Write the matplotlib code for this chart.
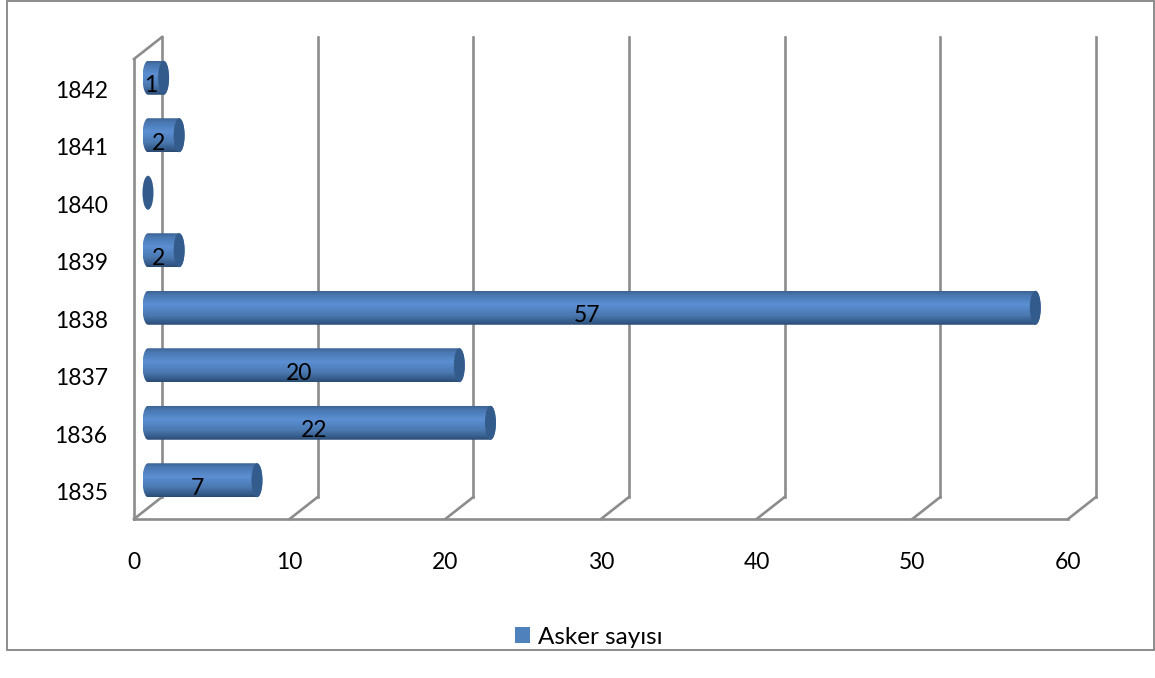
import numpy as np
import matplotlib
matplotlib.use('Agg')
import matplotlib.pyplot as plt
from matplotlib.colors import LinearSegmentedColormap
from matplotlib.patches import Ellipse, Patch, Rectangle
from matplotlib.path import Path
from matplotlib.transforms import Affine2D, IdentityTransform

years = ['1835', '1836', '1837', '1838', '1839', '1840', '1841', '1842']
asker = [7, 22, 20, 57, 2, 0, 2, 1]
xticks = [0, 10, 20, 30, 40, 50, 60]
series_name = 'Asker sayısı'

W, H = 1155, 678
GREY = '#8c8c8c'
LW = 1.9
plt.rcParams['font.family'] = ['Lato', 'DejaVu Sans']
FS = 16.5

fig = plt.figure(figsize=(W / 100, H / 100), dpi=100)
ax = fig.add_axes([134 / W, (H - 519) / H, 934 / W, 460 / H])
ax.set_autoscale_on(False)
ax.set_xlim(0, 60)
ax.set_ylim(-0.5, 7.5)
ax.set_xticks(xticks)
ax.set_yticks(range(len(years)))
ax.set_yticklabels(years)
ax.tick_params(axis='x', length=0, pad=24, labelsize=FS, labelcolor='black')
ax.tick_params(axis='y', length=0, pad=19, labelsize=FS, labelcolor='black')
for lab in ax.get_yticklabels():
    lab.set_transform(lab.get_transform() + Affine2D().translate(0, -1.5))
for s in ['top', 'right']:
    ax.spines[s].set_visible(False)
for s in ['left', 'bottom']:
    ax.spines[s].set_color(GREY)
    ax.spines[s].set_linewidth(LW)

# outer chart frame
fig.add_artist(Rectangle((7 / W, (H - 650) / H), 1147 / W, 649 / H, transform=fig.transFigure,
                         fill=False, edgecolor=GREY, linewidth=1.4))

# fake 3d depth, in pixels
depth_x, depth_y = 28, 22
tr_mid = ax.transData + Affine2D().translate(depth_x / 2, depth_y / 2 - 1)
tr_back = ax.transData + Affine2D().translate(depth_x, depth_y)
px = IdentityTransform()

for v in xticks:
    x0, y0 = ax.transData.transform((v, -0.5))
    ax.plot([x0, x0 + depth_x], [y0, y0 + depth_y], transform=px, color=GREY, lw=LW,
            clip_on=False, zorder=1)
    ax.plot([v, v], [-0.5, 7.5], transform=tr_back, color=GREY, lw=LW, clip_on=False, zorder=1)
xl, yl = ax.transData.transform((0, 7.5))
ax.plot([xl, xl + depth_x], [yl, yl + depth_y], transform=px, color=GREY, lw=LW,
        clip_on=False, zorder=1)

# cylinders
cmap = LinearSegmentedColormap.from_list('cyl', [(0, '#3d6595'), (0.12, '#4a78b2'), (0.4, '#5b8fd3'),
                                                 (0.72, '#4a78b0'), (0.92, '#345a88'), (1, '#2c4c74')])
grad = np.linspace(0, 1, 64).reshape(-1, 1)
half_h = 17
cap_w = 5.5
t = np.linspace(np.pi / 2, 3 * np.pi / 2, 30)

for i, v in enumerate(asker):
    xs, yc = tr_mid.transform((0, i))
    xe, _ = tr_mid.transform((v, i))
    if v > 0:
        left = np.column_stack([xs + cap_w * np.cos(t), yc + half_h * np.sin(t)])
        right = np.column_stack([xe - cap_w * np.cos(t), yc - half_h * np.sin(t)])
        outline = np.vstack([left, right, left[:1]])
        im = ax.imshow(grad, cmap=cmap, extent=(xs - cap_w, xe + cap_w, yc - half_h, yc + half_h),
                       transform=px, aspect='auto', interpolation='bilinear', zorder=3)
        im.set_clip_path(Path(outline), px)
    ax.add_patch(Ellipse((xe, yc), cap_w * 2, half_h * 2, transform=px, facecolor='#335c8c',
                         edgecolor='none', zorder=4, clip_on=False))
    if v > 0:
        ax.annotate(str(v), xy=(v / 2, i), xycoords=tr_mid, xytext=(-5, -8),
                    textcoords='offset pixels', ha='center', va='center', fontsize=FS,
                    color='black', zorder=5)

ax.set_xlim(0, 60)
ax.set_ylim(-0.5, 7.5)

leg = ax.legend(handles=[Patch(facecolor='#4f81bd', label=series_name)], loc='center',
                bbox_to_anchor=(589 / W, (H - 637) / H), bbox_transform=fig.transFigure,
                frameon=False, fontsize=17.5, handlelength=0.6, handleheight=0.6, handletextpad=0.35)

fig.savefig('out.png', dpi=100, facecolor='white')
